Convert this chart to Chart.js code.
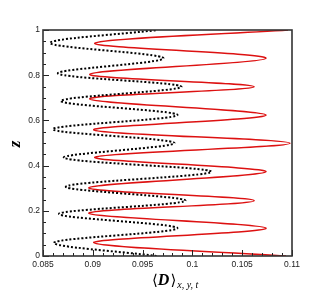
<!DOCTYPE html>
<html><head><meta charset="utf-8">
<script src="https://cdn.jsdelivr.net/npm/chart.js@4/dist/chart.umd.min.js"></script>
<style>html,body{margin:0;padding:0;background:#fff}canvas{display:block}</style>
</head><body>
<canvas id="c" width="332" height="296"></canvas>
<script>
// z positions and values of the extremes
const zRed   = [0, 0.059, 0.123, 0.189, 0.245, 0.302, 0.373, 0.437, 0.499, 0.558, 0.624, 0.695, 0.749, 0.804, 0.875, 0.941, 1.0];
const dRed   = [0.1094, 0.0901, 0.1074, 0.0896, 0.1062, 0.0896, 0.1074, 0.0902, 0.1098, 0.0901, 0.1074, 0.0897, 0.1062, 0.0897, 0.1074, 0.0902, 0.1096];
const zBlack = [0, 0.059, 0.123, 0.186, 0.245, 0.307, 0.373, 0.435, 0.5, 0.561, 0.624, 0.686, 0.749, 0.808, 0.875, 0.942, 1.0];
const dBlack = [0.0964, 0.0861, 0.0985, 0.0866, 0.0993, 0.0873, 0.1019, 0.0871, 0.0982, 0.0860, 0.0985, 0.0868, 0.0989, 0.0865, 0.0971, 0.0857, 0.0965];

const xTicks = [0.085, 0.09, 0.095, 0.1, 0.105, 0.11];
const xTickLabels = ['0.085', '0.09', '0.095', '0.1', '0.105', '0.11'];
const xMinorStep = 0.001;
const yTicks = [0, 0.2, 0.4, 0.6, 0.8, 1];
const yTickLabels = ['0', '0.2', '0.4', '0.6', '0.8', '1'];
const yMinorStep = 0.05;

const tickFont = {family: '"Liberation Sans", Arial, sans-serif', size: 8.5};

const framePlugin = {
  id: 'frame',
  afterDraw(chart) {
    const ctx = chart.ctx, a = chart.chartArea;
    const xs = chart.scales.x, ys = chart.scales.y;
    ctx.save();
    ctx.strokeStyle = '#222';
    ctx.lineWidth = 1;
    // minor + major ticks (inward)
    ctx.beginPath();
    const nx = Math.round((xs.max - xs.min) / xMinorStep);
    for (let i = 0; i <= nx; i++) {
      const v = xs.min + i * xMinorStep;
      const isMajor = xTicks.some(t => Math.abs(t - v) < 1e-9);
      const px = Math.round(xs.getPixelForValue(v)) + 0.5;
      ctx.moveTo(px, a.bottom);
      ctx.lineTo(px, a.bottom - (isMajor ? 6 : 3));
    }
    const ny = Math.round((ys.max - ys.min) / yMinorStep);
    for (let i = 0; i <= ny; i++) {
      const v = ys.min + i * yMinorStep;
      const isMajor = yTicks.some(t => Math.abs(t - v) < 1e-9);
      const py = Math.round(ys.getPixelForValue(v)) + 0.5;
      ctx.moveTo(a.left, py);
      ctx.lineTo(a.left + (isMajor ? 6 : 3), py);
    }
    ctx.stroke();
    // frame
    ctx.lineWidth = 1.6;
    ctx.strokeStyle = '#333';
    ctx.strokeRect(a.left, a.top, a.right - a.left, a.bottom - a.top);
    // axis titles
    ctx.fillStyle = '#000';
    ctx.textBaseline = 'alphabetic';
    ctx.textAlign = 'left';
    const serif = '"Liberation Serif", "DejaVu Serif", serif';
    let x = 152, base = 285;
    ctx.font = '15px "DejaVu Serif", serif';
    ctx.fillText('\u27E8', x, base);
    x += ctx.measureText('\u27E8').width;
    ctx.font = 'italic bold 16px ' + serif;
    ctx.fillText('D', x, base);
    x += ctx.measureText('D').width + 1;
    ctx.font = '15px "DejaVu Serif", serif';
    ctx.fillText('\u27E9', x, base);
    x += ctx.measureText('\u27E9').width + 1;
    ctx.font = 'italic 10px ' + serif;
    ctx.fillText('x, y, t', x, base + 3);
    // z label rotated
    ctx.save();
    ctx.translate(20, 144);
    ctx.rotate(-Math.PI / 2);
    ctx.textAlign = 'center';
    ctx.font = 'italic bold 17px ' + serif;
    ctx.fillText('z', 0, 0);
    ctx.restore();
    ctx.restore();
  }
};

new Chart(document.getElementById('c'), {
  type: 'scatter',
  data: {
    datasets: [
      {
        data: zBlack.map((z, i) => ({x: dBlack[i], y: z})),
        showLine: true, borderColor: '#000', borderWidth: 2, borderDash: [2, 2],
        pointRadius: 0, tension: 0.33
      },
      {
        data: zRed.map((z, i) => ({x: dRed[i], y: z})),
        showLine: true, borderColor: '#dd1111', borderWidth: 1.5,
        pointRadius: 0, tension: 0.33
      }
    ]
  },
  options: {
    responsive: false, animation: false, devicePixelRatio: 1,
    layout: {padding: {left: 0, right: 40, top: 30, bottom: 0}},
    plugins: {legend: {display: false}, tooltip: {enabled: false}},
    scales: {
      x: {
        type: 'linear', min: 0.085, max: 0.11,
        grid: {display: false, drawTicks: false}, border: {display: false},
        afterBuildTicks: s => { s.ticks = xTicks.map(v => ({value: v})); },
        ticks: {font: tickFont, color: '#222', padding: 4, maxRotation: 0, autoSkip: false,
                callback: (v, i) => xTickLabels[i]},
        afterFit: s => { s.height = 40; }
      },
      y: {
        type: 'linear', min: 0, max: 1,
        grid: {display: false, drawTicks: false}, border: {display: false},
        afterBuildTicks: s => { s.ticks = yTicks.map(v => ({value: v})); },
        ticks: {font: tickFont, color: '#222', padding: 3, autoSkip: false,
                callback: (v, i) => yTickLabels[i]},
        afterFit: s => { s.width = 43; }
      }
    }
  },
  plugins: [framePlugin]
});
</script>
</body></html>
